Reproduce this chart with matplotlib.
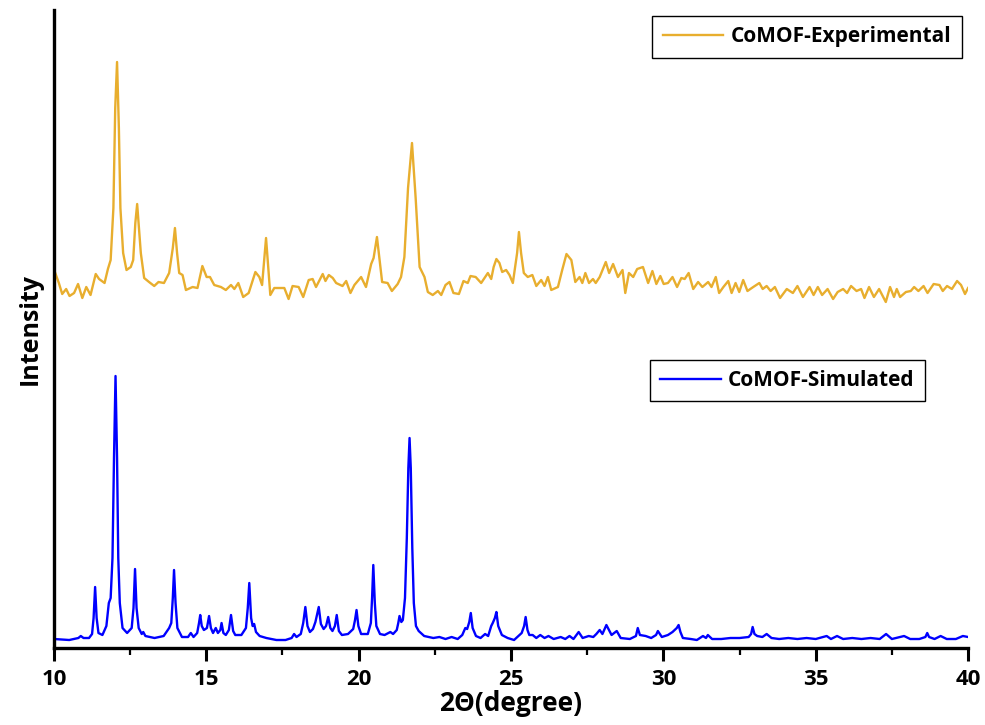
import matplotlib
matplotlib.use("Agg")
import matplotlib.pyplot as plt
from matplotlib.lines import Line2D
from matplotlib.ticker import MultipleLocator

# simulated pattern, 2theta (deg) vs intensity (a.u.)
sim_2theta = [
    10.00, 10.50, 10.80, 10.88, 10.97, 11.15, 11.25, 11.30, 11.35, 11.40,
    11.46, 11.59, 11.72, 11.80, 11.86, 11.92, 11.97, 12.02, 12.07, 12.11,
    12.16, 12.25, 12.40, 12.55, 12.61, 12.66, 12.71, 12.78, 12.88, 12.93,
    13.00, 13.30, 13.60, 13.78, 13.85, 13.90, 13.94, 13.99, 14.05, 14.20,
    14.40, 14.49, 14.58, 14.70, 14.76, 14.80, 14.85, 14.92, 15.02, 15.09,
    15.15, 15.22, 15.31, 15.38, 15.46, 15.50, 15.56, 15.64, 15.74, 15.81,
    15.88, 15.95, 16.15, 16.30, 16.36, 16.41, 16.47, 16.52, 16.57, 16.63,
    16.75, 16.97, 17.30, 17.60, 17.80, 17.88, 17.96, 18.10, 18.18, 18.25,
    18.32, 18.40, 18.50, 18.58, 18.69, 18.76, 18.85, 18.93, 19.00, 19.07,
    19.14, 19.22, 19.28, 19.35, 19.45, 19.65, 19.82, 19.88, 19.93, 19.99,
    20.08, 20.30, 20.40, 20.44, 20.48, 20.53, 20.58, 20.70, 20.85, 21.04,
    21.13, 21.25, 21.30, 21.34, 21.40, 21.45, 21.52, 21.58, 21.63, 21.67,
    21.71, 21.76, 21.81, 21.88, 21.97, 22.15, 22.45, 22.65, 22.85, 23.05,
    23.25, 23.40, 23.50, 23.56, 23.63, 23.68, 23.74, 23.85, 24.00, 24.15,
    24.25, 24.35, 24.40, 24.47, 24.52, 24.58, 24.70, 24.89, 25.10, 25.35,
    25.43, 25.48, 25.54, 25.60, 25.71, 25.83, 25.96, 26.10, 26.23, 26.40,
    26.63, 26.78, 26.92, 27.05, 27.22, 27.35, 27.55, 27.70, 27.80, 27.91,
    28.00, 28.13, 28.30, 28.47, 28.60, 28.90, 29.10, 29.16, 29.23, 29.42,
    29.60, 29.76, 29.82, 29.95, 30.15, 30.30, 30.44, 30.50, 30.56, 30.64,
    30.90, 31.10, 31.30, 31.40, 31.46, 31.60, 31.90, 32.20, 32.50, 32.80,
    32.88, 32.93, 32.99, 33.08, 33.25, 33.39, 33.55, 33.80, 34.10, 34.40,
    34.70, 35.00, 35.36, 35.50, 35.70, 35.90, 36.20, 36.50, 36.80, 37.10,
    37.31, 37.50, 37.90, 38.10, 38.40, 38.60, 38.66, 38.72, 38.90, 39.10,
    39.30, 39.60, 39.83, 40.00,
]
sim_intensity = [
    9, 8, 10, 12, 10, 10, 14, 30, 61, 30,
    15, 13, 22, 45, 50, 90, 190, 272, 190, 90,
    45, 20, 15, 20, 40, 79, 40, 20, 14, 16,
    12, 10, 12, 20, 25, 50, 78, 45, 20, 11,
    11, 15, 11, 15, 25, 33, 22, 18, 20, 32,
    20, 15, 20, 15, 18, 25, 15, 13, 18, 33,
    17, 13, 13, 20, 40, 65, 30, 22, 24, 16,
    12, 10, 8, 8, 10, 14, 11, 14, 25, 41,
    22, 16, 19, 26, 41, 24, 19, 22, 31, 20,
    17, 22, 33, 17, 13, 14, 19, 28, 38, 22,
    14, 14, 25, 50, 83, 45, 22, 14, 13, 16,
    14, 18, 25, 32, 26, 28, 50, 110, 180, 210,
    180, 100, 45, 22, 17, 12, 10, 11, 9, 11,
    9, 13, 20, 19, 26, 35, 20, 12, 10, 14,
    12, 22, 25, 30, 36, 22, 13, 10, 8, 15,
    22, 31, 18, 13, 13, 10, 13, 10, 12, 9,
    11, 9, 12, 9, 16, 10, 12, 11, 14, 18,
    14, 23, 13, 17, 10, 9, 12, 20, 13, 12,
    10, 13, 17, 11, 13, 16, 20, 23, 16, 10,
    9, 8, 12, 10, 13, 9, 9, 10, 10, 11,
    14, 21, 14, 12, 11, 14, 10, 9, 10, 9,
    10, 9, 12, 9, 12, 9, 10, 9, 10, 9,
    14, 9, 12, 9, 9, 11, 15, 11, 9, 12,
    9, 9, 12, 11,
]

# experimental pattern (drawn with its own offset in the original)
exp_2theta = [
    10.03, 10.16, 10.27, 10.40, 10.51, 10.66, 10.79, 10.93, 11.06, 11.20,
    11.37, 11.48, 11.66, 11.77, 11.86, 11.95, 12.01, 12.07, 12.13, 12.18,
    12.27, 12.38, 12.52, 12.60, 12.67, 12.73, 12.79, 12.85, 12.96, 13.12,
    13.29, 13.43, 13.61, 13.78, 13.90, 13.97, 14.04, 14.11, 14.22, 14.33,
    14.55, 14.71, 14.87, 15.01, 15.12, 15.26, 15.48, 15.64, 15.81, 15.92,
    16.05, 16.21, 16.39, 16.61, 16.74, 16.83, 16.96, 17.10, 17.23, 17.56,
    17.70, 17.83, 18.03, 18.18, 18.36, 18.49, 18.60, 18.82, 18.91, 19.02,
    19.15, 19.26, 19.47, 19.59, 19.73, 19.86, 20.08, 20.24, 20.41, 20.49,
    20.60, 20.77, 20.95, 21.09, 21.28, 21.39, 21.50, 21.62, 21.75, 21.87,
    22.00, 22.16, 22.27, 22.43, 22.60, 22.71, 22.85, 22.98, 23.11, 23.29,
    23.44, 23.58, 23.67, 23.84, 24.02, 24.24, 24.35, 24.43, 24.52, 24.62,
    24.71, 24.84, 24.95, 25.06, 25.20, 25.26, 25.33, 25.42, 25.55, 25.70,
    25.83, 25.99, 26.10, 26.21, 26.32, 26.54, 26.68, 26.82, 26.98, 27.11,
    27.25, 27.34, 27.44, 27.56, 27.69, 27.78, 27.91, 28.11, 28.22, 28.35,
    28.51, 28.66, 28.75, 28.87, 29.01, 29.14, 29.33, 29.50, 29.64, 29.77,
    29.90, 30.01, 30.15, 30.30, 30.45, 30.59, 30.70, 30.83, 30.98, 31.14,
    31.28, 31.47, 31.58, 31.72, 31.83, 31.97, 32.13, 32.24, 32.37, 32.49,
    32.62, 32.76, 32.95, 33.15, 33.26, 33.39, 33.52, 33.66, 33.83, 34.05,
    34.25, 34.40, 34.58, 34.80, 34.93, 35.07, 35.21, 35.39, 35.57, 35.72,
    35.90, 36.03, 36.16, 36.34, 36.49, 36.60, 36.75, 36.91, 37.08, 37.30,
    37.44, 37.57, 37.66, 37.77, 37.96, 38.12, 38.23, 38.37, 38.54, 38.67,
    38.87, 39.06, 39.17, 39.31, 39.47, 39.64, 39.77, 39.90, 40.00,
]
exp_intensity = [
    376, 365, 354, 359, 352, 355, 364, 350, 361, 353,
    374, 369, 365, 379, 388, 440, 540, 586, 520, 440,
    395, 378, 381, 388, 425, 444, 420, 395, 370, 366,
    362, 366, 365, 375, 400, 420, 395, 375, 373, 358,
    361, 360, 382, 371, 371, 363, 361, 358, 363, 359,
    365, 351, 355, 376, 371, 363, 410, 353, 360, 360,
    349, 362, 361, 351, 368, 369, 361, 374, 367, 373,
    370, 365, 362, 367, 355, 363, 371, 361, 384, 390,
    411, 366, 365, 357, 364, 371, 391, 460, 505, 450,
    381, 371, 356, 353, 357, 353, 363, 366, 355, 354,
    367, 365, 372, 371, 365, 375, 369, 381, 389, 385,
    376, 378, 373, 365, 395, 416, 395, 375, 371, 373,
    362, 368, 362, 371, 358, 361, 378, 394, 388, 366,
    371, 365, 375, 365, 369, 365, 371, 386, 375, 384,
    371, 378, 355, 375, 371, 379, 381, 365, 377, 364,
    372, 364, 365, 371, 361, 370, 369, 375, 359, 366,
    361, 366, 361, 371, 355, 361, 367, 355, 365, 356,
    368, 357, 361, 365, 359, 362, 357, 361, 350, 359,
    355, 362, 351, 361, 353, 361, 353, 359, 349, 356,
    359, 355, 362, 357, 359, 350, 361, 351, 359, 346,
    361, 351, 359, 351, 356, 357, 361, 357, 362, 355,
    364, 363, 357, 362, 359, 367, 363, 354, 360,
]

exp_color = "#E8AE2E"
sim_color = "#0000FF"

plt.rcParams["font.family"] = ["Open Sans", "DejaVu Sans"]
plt.rcParams["font.weight"] = "bold"

fig = plt.figure(figsize=(9.85, 7.25), dpi=100)
ax = fig.add_axes([0.0548, 0.1062, 0.928, 0.88])

ax.plot(exp_2theta, exp_intensity, color=exp_color, lw=1.7)
ax.plot(sim_2theta, sim_intensity, color=sim_color, lw=1.7)

ax.set_xlim(10, 40)
ax.set_ylim(0, 638)
ax.xaxis.set_major_locator(MultipleLocator(5))
ax.xaxis.set_minor_locator(MultipleLocator(2.5))
ax.set_yticks([])
ax.tick_params(axis="x", which="major", direction="out", length=9, width=2.2,
               labelsize=16, pad=6)
ax.tick_params(axis="x", which="minor", direction="out", length=5, width=1.6)
for lab in ax.get_xticklabels():
    lab.set_fontweight("bold")
for side in ("top", "right"):
    ax.spines[side].set_visible(False)
for side in ("left", "bottom"):
    ax.spines[side].set_linewidth(2.4)

ax.set_xlabel("2Θ(degree)", fontsize=19, fontweight="bold", labelpad=0)
ax.set_ylabel("Intensity", fontsize=18, fontweight="bold", labelpad=8)

leg_kw = dict(frameon=True, fancybox=False, edgecolor="black", framealpha=1,
              handlelength=2.9, handletextpad=0.35, borderpad=0.5,
              borderaxespad=0, prop={"size": 15, "weight": "bold"})
leg1 = ax.legend([Line2D([], [], color=exp_color, lw=1.7)], ["CoMOF-Experimental"],
                 loc="upper right", bbox_to_anchor=(0.993, 0.991), **leg_kw)
leg1.get_frame().set_linewidth(1.0)
ax.add_artist(leg1)
leg2 = ax.legend([Line2D([], [], color=sim_color, lw=1.7)], ["CoMOF-Simulated"],
                 loc="upper right", bbox_to_anchor=(0.953, 0.452), **leg_kw)
leg2.get_frame().set_linewidth(1.0)

fig.savefig("out.png", dpi=100)
